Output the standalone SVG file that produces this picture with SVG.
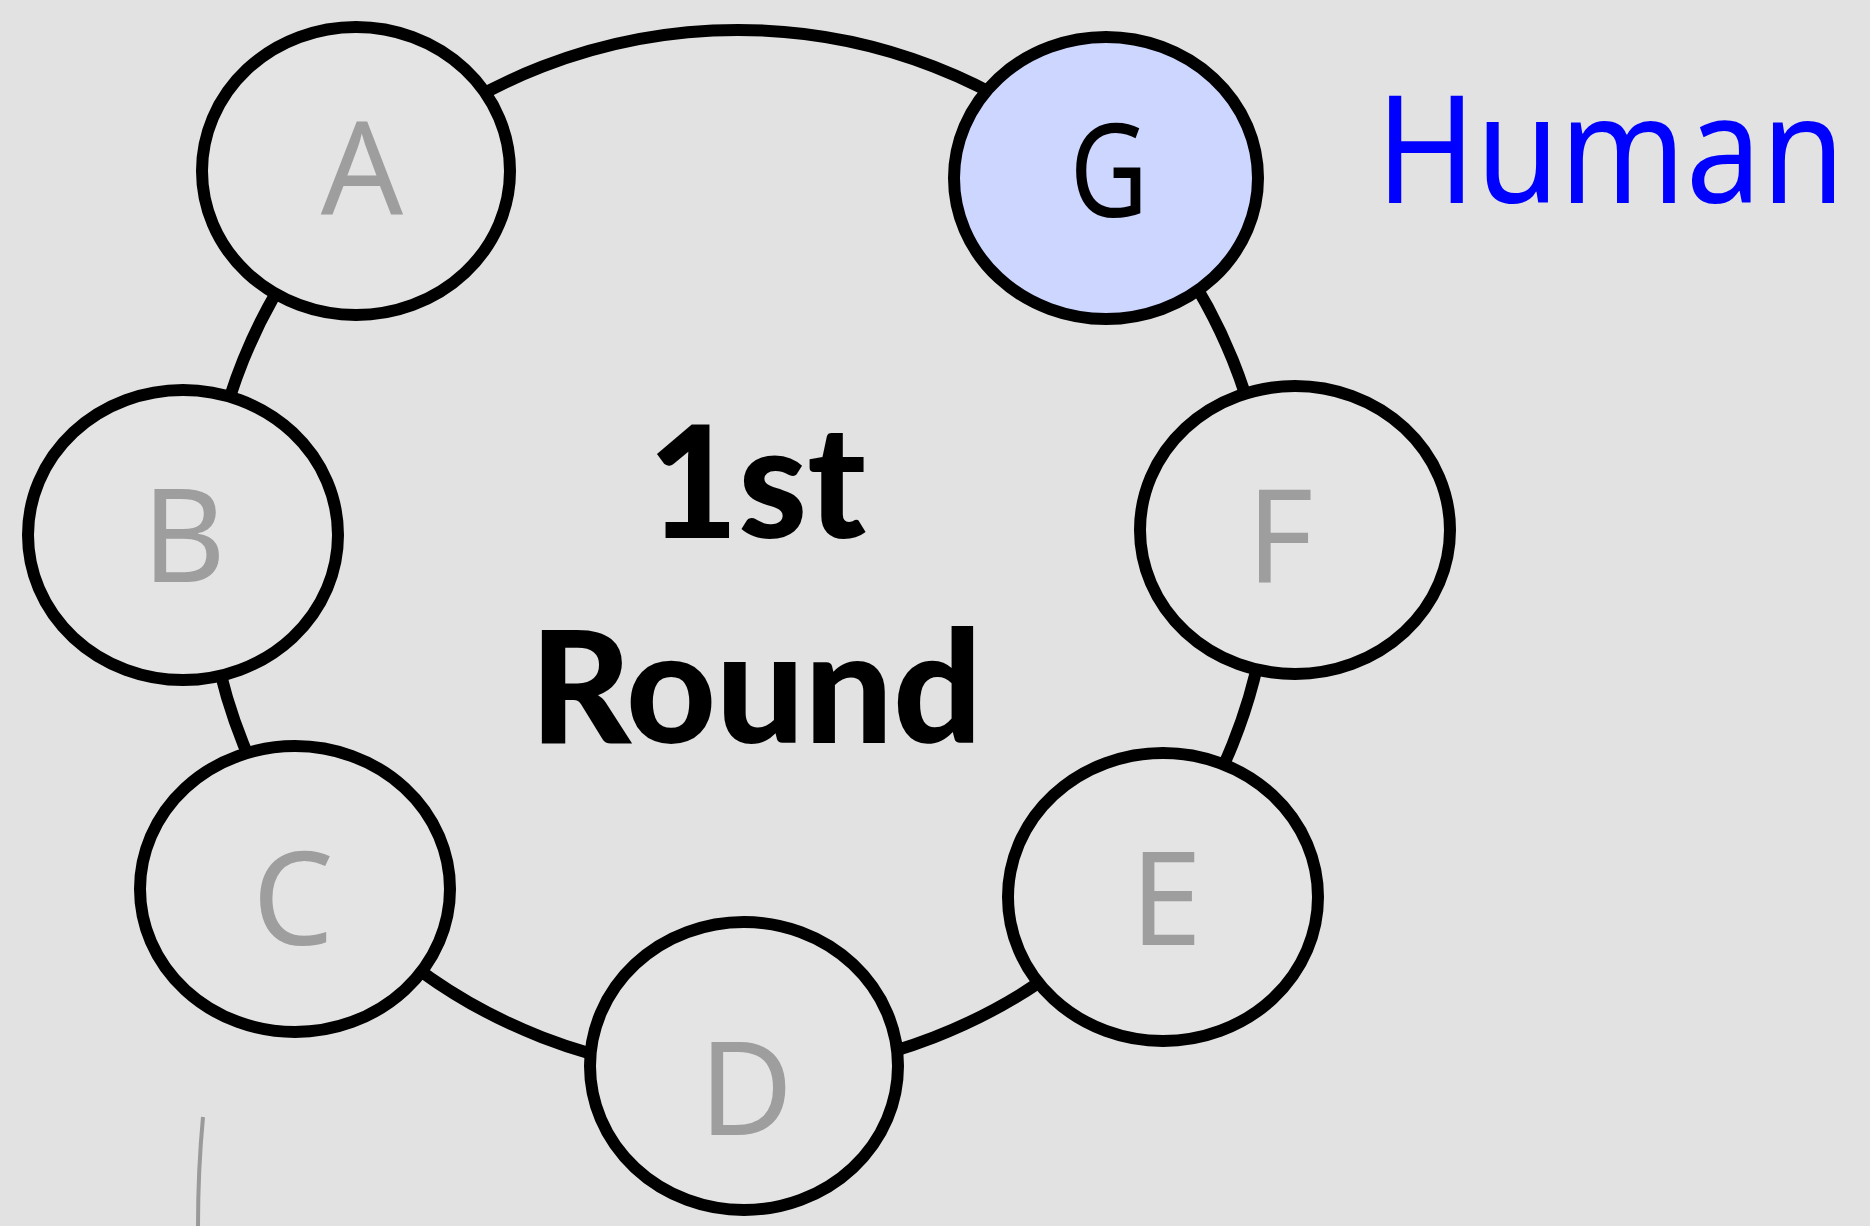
<svg xmlns="http://www.w3.org/2000/svg" width="1870" height="1226" viewBox="0 0 1870 1226">
  <style>
    .ring { fill: none; stroke: #000; stroke-width: 12; }
    .node { fill: #e4e4e4; stroke: #000; stroke-width: 12; }
    .node.active { fill: #ccd6ff; }
    .lbl { font-family: "Noto Sans", "Open Sans", sans-serif; font-size: 129px; font-weight: 400; fill: #9e9e9e; text-anchor: middle; }
    .lbl.active { fill: #000; }
    .title { font-family: Lato, "Liberation Sans", sans-serif; font-weight: 900; font-size: 156px; fill: #000; text-anchor: middle; }
    .side { font-family: "Noto Sans", "Open Sans", sans-serif; font-size: 150px; fill: #0000ff; }
  </style>

  <rect width="1870" height="1226" fill="#e2e2e2"/>

  <!-- round table ring linking the seats -->
  <g id="connectors">
    <ellipse class="ring" cx="738" cy="552" rx="532" ry="522"/>
  </g>

  <!-- centre caption -->
  <g id="caption">
    <text class="title" x="757" y="538">1st</text>
    <text class="title" x="756" y="743">Round</text>
  </g>

  <g id="node-A">
    <ellipse class="node" cx="356" cy="171" rx="154" ry="144"/>
    <text class="lbl" x="362" y="215">A</text>
  </g>
  <g id="node-B">
    <ellipse class="node" cx="183" cy="535" rx="155" ry="145"/>
    <text class="lbl" x="184" y="582">B</text>
  </g>
  <g id="node-C">
    <ellipse class="node" cx="295" cy="889" rx="155" ry="143"/>
    <text class="lbl" x="293" y="945">C</text>
  </g>
  <g id="node-D">
    <ellipse class="node" cx="744" cy="1066" rx="154" ry="144"/>
    <text class="lbl" x="746" y="1135">D</text>
  </g>
  <g id="node-E">
    <ellipse class="node" cx="1163" cy="897" rx="155" ry="144"/>
    <text class="lbl" x="1166" y="945">E</text>
  </g>
  <g id="node-F">
    <ellipse class="node" cx="1295" cy="530" rx="155" ry="144"/>
    <text class="lbl" x="1280" y="582">F</text>
  </g>
  <g id="node-G">
    <ellipse class="node active" cx="1106" cy="178" rx="152" ry="141"/>
    <text class="lbl active" transform="translate(1109 217) scale(0.84 1)" x="0" y="0">G</text>
  </g>

  <g id="label-human">
    <text class="side" transform="translate(1376 203) scale(0.9 1)" x="0" y="0">Human</text>
  </g>

  <!-- faint pencil stroke, lower left -->
  <path d="M203 1117 Q198 1170 198 1226" fill="none" stroke="#9a9a9a" stroke-width="4"/>
</svg>
